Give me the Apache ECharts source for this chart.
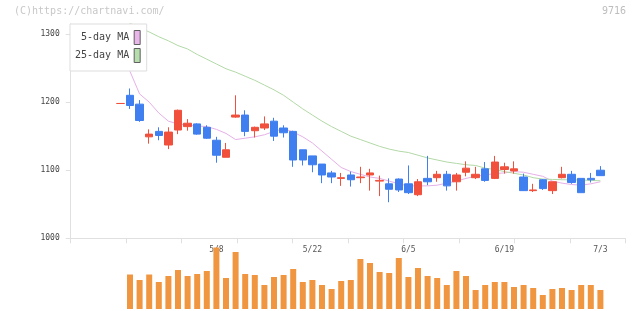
<!DOCTYPE html>
<html>
<head>
<meta charset="utf-8">
<script src="https://cdn.jsdelivr.net/npm/echarts@6/dist/echarts.min.js"></script>
<style>
  html, body { margin: 0; padding: 0; background: #fff; }
  #kline { width: 640px; height: 311px; }
</style>
</head>
<body>
<div id="kline"></div>
<script>
// 日付（営業日）
var dates = [
  "4/19", "4/20", "4/21", "4/24", "4/25", "4/26", "4/27", "4/28",
  "5/1", "5/2", "5/8", "5/9", "5/10", "5/11", "5/12", "5/15", "5/16", "5/17", "5/18", "5/19",
  "5/22", "5/23", "5/24", "5/25", "5/26", "5/29", "5/30", "5/31",
  "6/1", "6/2", "6/5", "6/6", "6/7", "6/8", "6/9", "6/12", "6/13", "6/14", "6/15", "6/16",
  "6/19", "6/20", "6/21", "6/22", "6/23", "6/26", "6/27", "6/28", "6/29", "6/30",
  "7/3"
];
// 始値・終値・安値・高値
var openP = [1198, 1210, 1197, 1149, 1157, 1137, 1159, 1164, 1168, 1163, 1144, 1119, 1178, 1181, 1158, 1162, 1172, 1162, 1157, 1130,
  1121, 1109, 1096, 1088, 1093, 1089, 1093, 1084, 1080, 1087, 1080, 1064, 1088, 1089, 1094, 1083, 1097, 1089, 1102, 1088,
  1101, 1099, 1090, 1070, 1086, 1070, 1089, 1094, 1088, 1088, 1100];
var closeP = [1198, 1195, 1173, 1153, 1151, 1156, 1188, 1169, 1153, 1147, 1122, 1130, 1181, 1157, 1163, 1168, 1150, 1155, 1115, 1115,
  1108, 1093, 1090, 1089, 1086, 1090, 1096, 1085, 1072, 1071, 1067, 1083, 1083, 1094, 1077, 1093, 1103, 1094, 1085, 1112,
  1105, 1102, 1070, 1071, 1073, 1083, 1094, 1082, 1067, 1086, 1092];
var lowP = [1198, 1190, 1171, 1139, 1144, 1131, 1153, 1158, 1152, 1146, 1111, 1119, 1177, 1150, 1148, 1159, 1143, 1148, 1105, 1107,
  1097, 1081, 1081, 1077, 1076, 1081, 1070, 1062, 1053, 1068, 1065, 1062, 1078, 1083, 1070, 1070, 1091, 1087, 1083, 1087,
  1095, 1095, 1070, 1068, 1071, 1065, 1088, 1080, 1067, 1082, 1092];
var highP = [1198, 1220, 1203, 1160, 1163, 1163, 1189, 1175, 1169, 1166, 1149, 1140, 1210, 1188, 1164, 1179, 1177, 1166, 1158, 1130,
  1121, 1109, 1099, 1096, 1098, 1105, 1102, 1092, 1088, 1088, 1107, 1087, 1121, 1099, 1099, 1096, 1113, 1105, 1112, 1121,
  1111, 1113, 1095, 1080, 1087, 1083, 1105, 1099, 1088, 1096, 1106];
// 移動平均
var ma5 = [1280, 1245, 1212, 1200, 1184, 1172, 1168, 1166, 1165, 1164, 1160, 1154, 1145, 1147, 1149, 1152, 1157, 1161, 1156, 1149,
  1140, 1128, 1116, 1104, 1098, 1094, 1090, 1088, 1084, 1080, 1077, 1077, 1077, 1078, 1081, 1084, 1088, 1091, 1093, 1095,
  1096, 1098, 1097, 1094, 1091, 1084, 1081, 1079, 1078, 1080, 1083];
var ma25 = [1322, 1316, 1309, 1303, 1296, 1290, 1283, 1278, 1270, 1263, 1256, 1249, 1244, 1238, 1232, 1225, 1218, 1210, 1200, 1190,
  1181, 1172, 1164, 1157, 1150, 1145, 1140, 1135, 1131, 1128, 1126, 1122, 1118, 1115, 1112, 1110, 1108, 1107, 1103, 1101,
  1098, 1095.5, 1093, 1089, 1087, 1086.5, 1086, 1086, 1085.5, 1085, 1084.5];
// 出来高（千株）
var volume = [0, 69, 58, 69, 54, 66, 78, 66, 70, 76, 123, 62, 114, 70, 68, 48, 64, 68, 80, 54,
  58, 48, 40, 56, 58, 100, 92, 74, 72, 102, 64, 82, 66, 62, 48, 76, 66, 38, 48, 54,
  54, 44, 48, 42, 28, 40, 42, 38, 48, 48, 38];
var priceTicks = [1000, 1100, 1200, 1300];

var upColor = "#f0503c";
var downColor = "#3f7ff0";
var mono = "'DejaVu Sans Mono', monospace";

var candles = [];
for (var i = 0; i < dates.length; i++) {
  candles.push([openP[i], closeP[i], lowP[i], highP[i]]);
}

var myChart = echarts.init(document.getElementById("kline"));
var option = {
  animation: false,
  backgroundColor: "#fff",
  graphic: [
    { type: "text", left: 14, top: 6, style: { text: "(C)https://chartnavi.com/", font: "10px " + mono, fill: "#c8c8c8" } },
    { type: "text", right: 14, top: 6, style: { text: "9716", font: "10px " + mono, fill: "#bdbdbd" } }
  ],
  legend: {
    orient: "vertical",
    left: 70,
    top: 24,
    align: "right",
    selectedMode: false,
    icon: "rect",
    itemWidth: 6,
    itemHeight: 14,
    itemGap: 3,
    padding: [6, 6, 8, 5],
    backgroundColor: "#fff",
    borderColor: "#dddddd",
    borderWidth: 1,
    itemStyle: { borderColor: "#606060", borderWidth: 1 },
    textStyle: { fontFamily: mono, fontSize: 10, color: "#444" },
    formatter: function (name) {
      return ("         " + name).slice(-9);
    },
    data: ["5-day MA", "25-day MA"],
    z: 10
  },
  grid: [
    // 枠（軸）
    { left: 70.7, right: 14.7, top: 23.8, bottom: 72.7 },
    // ローソク足
    { left: 115.6, right: 34.8, top: 23.8, bottom: 72.7 },
    // 出来高
    { left: 115.6, right: 34.8, top: 245, bottom: 2 }
  ],
  xAxis: [
    {
      gridIndex: 0, type: "value", min: 0, max: 10, interval: 1,
      axisLine: { lineStyle: { color: "#e0e0e0" } },
      axisTick: { length: 5, lineStyle: { color: "#e0e0e0" } },
      axisLabel: { show: false },
      splitLine: { show: false }
    },
    {
      gridIndex: 1, type: "category", data: dates, boundaryGap: true,
      axisLine: { show: false },
      axisTick: { show: false },
      axisLabel: {
        margin: 8,
        fontFamily: mono, fontSize: 8, color: "#555",
        interval: function (idx) { return idx > 0 && idx % 10 === 0; }
      },
      splitLine: { show: false }
    },
    {
      gridIndex: 2, type: "category", data: dates, boundaryGap: true,
      axisLine: { show: false }, axisTick: { show: false }, axisLabel: { show: false }
    }
  ],
  yAxis: [
    {
      gridIndex: 0, type: "value", min: 1000, max: 1315, interval: 100,
      axisLine: { show: true, lineStyle: { color: "#e0e0e0" } },
      axisTick: { show: true, length: 5, lineStyle: { color: "#e0e0e0" }, customValues: priceTicks },
      axisLabel: {
        margin: 11, fontFamily: mono, fontSize: 8, color: "#444", customValues: priceTicks,
        formatter: function (v) { return String(v); }
      },
      splitLine: { show: false }
    },
    {
      gridIndex: 1, type: "value", min: 1000, max: 1315, show: false, splitLine: { show: false }
    },
    {
      gridIndex: 2, type: "value", min: 0, max: 128, show: false, splitLine: { show: false }
    }
  ],
  series: [
    {
      name: "株価",
      type: "candlestick",
      xAxisIndex: 1,
      yAxisIndex: 1,
      barWidth: 8,
      data: candles,
      itemStyle: {
        color: upColor,
        color0: downColor,
        borderColor: upColor,
        borderColor0: downColor,
        borderWidth: 1
      },
      z: 3
    },
    {
      name: "5-day MA",
      type: "line",
      xAxisIndex: 1,
      yAxisIndex: 1,
      data: ma5,
      showSymbol: false,
      symbol: "none",
      color: "#e9b6ea",
      lineStyle: { width: 1, color: "#e6b0e8" },
      z: 2
    },
    {
      name: "25-day MA",
      type: "line",
      xAxisIndex: 1,
      yAxisIndex: 1,
      data: ma25,
      showSymbol: false,
      symbol: "none",
      color: "#b6ddac",
      lineStyle: { width: 1, color: "#b2d9a6" },
      z: 2
    },
    {
      name: "出来高",
      type: "bar",
      xAxisIndex: 2,
      yAxisIndex: 2,
      barWidth: 6,
      data: volume,
      itemStyle: { color: "#f19640" },
      z: 3
    }
  ]
};
myChart.setOption(option);
</script>
</body>
</html>
